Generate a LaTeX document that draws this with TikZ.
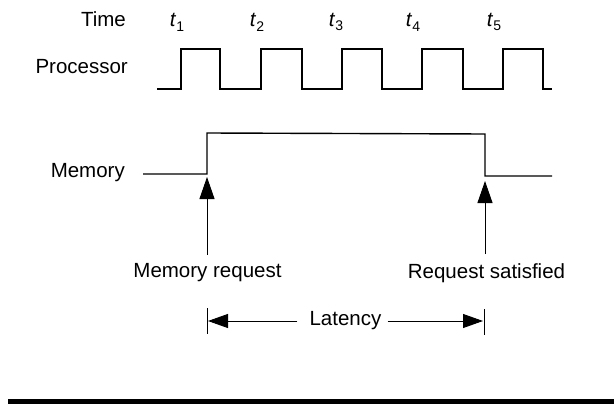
\documentclass[tikz,border=0pt]{standalone}
\usepackage{fontspec}
\setmainfont{Liberation Sans}
\usetikzlibrary{arrows.meta}
\begin{document}
\begin{tikzpicture}[x=1pt,y=-1pt,
  lbl/.style={inner sep=0pt,font=\fontsize{20.5}{24}\selectfont},
  rlbl/.style={lbl,anchor=east},
  tlbl/.style={lbl},
  wave/.style={line width=1.4pt,line join=miter},
  pointer/.style={line width=0.9pt,-{Triangle[length=22pt,width=15pt]}},
  span/.style={line width=0.9pt,-{Triangle[length=20pt,width=14pt]},shorten >=1pt},
  tick/.style={line width=0.9pt}]
\useasboundingbox (0,0) rectangle (614,404);

% row labels
\node[rlbl] (time) at (126,19) {Time};
\node[rlbl] (proc) at (128,67) {Processor};
\node[rlbl] (mem) at (125,173) {Memory};

% clock instants
\newcommand{\tmark}[1]{\textit{t}\raisebox{-0.45ex}{\fontsize{14}{16}\selectfont #1}}
\node[tlbl] (t1) at (177,22) {\tmark{1}};
\node[tlbl] (t2) at (257,22) {\tmark{2}};
\node[tlbl] (t3) at (336,22) {\tmark{3}};
\node[tlbl] (t4) at (413,22) {\tmark{4}};
\node[tlbl] (t5) at (494,22) {\tmark{5}};

% processor clock
\draw[wave] (157,89) -- (181,89) -- (181,49) -- (220,49) -- (220,89)
  -- (261,89) -- (261,49) -- (302,49) -- (302,89)
  -- (342,89) -- (342,49) -- (382,49) -- (382,89)
  -- (422,89) -- (422,49) -- (463,49) -- (463,89)
  -- (503,89) -- (503,49) -- (543,49) -- (543,89) -- (552,89);

% memory busy signal
\draw[wave] (143,174) -- (207,174) -- (207,133) -- (485,134) -- (485,176) -- (552,176);

% event labels and pointers
\node[lbl] (req) at (207.5,273) {Memory request};
\node[lbl] (sat) at (486.5,273) {Request satisfied};
\coordinate (reqtip) at (207,177);
\coordinate (sattip) at (485,181);
\draw[pointer] (req.north -| reqtip) ++(0,-9) -- (reqtip);
\draw[pointer] (sat.north -| sattip) ++(0,-9) -- (sattip);

% latency span
\node[lbl] (lat) at (345.5,321) {Latency};
\coordinate (lbar) at (207,321);
\coordinate (rbar) at (484,321);
\draw[tick] (207,308) -- (207,334);
\draw[tick] (484,309) -- (484,335);
\draw[span] (lat.west) ++(-12,0) -- (lbar);
\draw[span] (lat.east) ++(6,0) -- (rbar);

% rule at the foot
\fill (8,399) rectangle (614,404);
\end{tikzpicture}
\end{document}
